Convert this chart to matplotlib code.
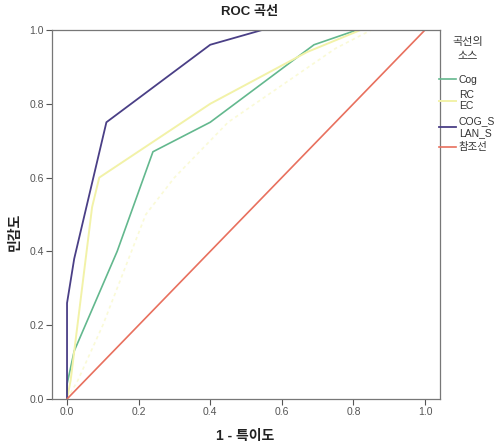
import matplotlib
matplotlib.use('Agg')
import matplotlib.pyplot as plt

plt.rcParams['font.family'] = ['Liberation Sans', 'Noto Sans CJK KR', 'DejaVu Sans']

# ROC curve points (1 - specificity, sensitivity)
cog_x = [0.0, 0.0, 0.02, 0.14, 0.24, 0.40, 0.69, 0.81, 1.0]
cog_y = [0.0, 0.04, 0.13, 0.40, 0.67, 0.75, 0.96, 1.0, 1.0]

rcec_x = [0.0, 0.01, 0.07, 0.09, 0.40, 0.67, 0.82, 1.0]
rcec_y = [0.0, 0.05, 0.52, 0.60, 0.80, 0.94, 1.0, 1.0]

cogslan_x = [0.0, 0.0, 0.0, 0.02, 0.11, 0.40, 0.545, 1.0]
cogslan_y = [0.0, 0.04, 0.26, 0.38, 0.75, 0.96, 1.0, 1.0]

faint_x = [0.0, 0.03, 0.10, 0.16, 0.22, 0.30, 0.45, 0.60, 0.75, 0.85, 1.0]
faint_y = [0.0, 0.05, 0.20, 0.35, 0.50, 0.60, 0.75, 0.85, 0.95, 1.0, 1.0]

ref = [0.0, 1.0]

ticks = [0.0, 0.2, 0.4, 0.6, 0.8, 1.0]

fig = plt.figure(figsize=(4.97, 4.45), dpi=100)
ax = fig.add_axes([52 / 497, 1 - 399 / 445, 388 / 497, 369 / 445])

ax.plot(faint_x, faint_y, color='#fafad6', lw=1.2, ls=(0, (2, 2)))
ax.plot(cog_x, cog_y, color='#63b88e', lw=1.2, label='Cog')
ax.plot(rcec_x, rcec_y, color='#f2f2a8', lw=1.4, label='RC\nEC')
ax.plot(cogslan_x, cogslan_y, color='#4a3f86', lw=1.3, label='COG_S\nLAN_S')
ax.plot(ref, ref, color='#e8705e', lw=1.2, label='참조선')

ax.set_xlim(-0.042, 1.042)
ax.set_ylim(0, 1)
ax.set_xticks(ticks)
ax.set_yticks(ticks)
ax.set_xticklabels([f'{t:.1f}' for t in ticks])
ax.set_yticklabels([f'{t:.1f}' for t in ticks])
ax.tick_params(labelsize=7.5, colors='#555555', length=4, width=0.8, pad=2)
for s in ax.spines.values():
    s.set_color('#777777')
    s.set_linewidth(0.9)

fig.text(250 / 497, 1 - 12 / 445, 'ROC 곡선', fontsize=9.5, fontweight='bold',
         color='#222222', ha='center', va='center')
fig.text(245 / 497, 1 - 436 / 445, '1 - 특이도', fontsize=10, fontweight='bold',
         color='#222222', ha='center', va='center')
fig.text(15 / 497, 1 - 232 / 445, '민감도', fontsize=10, fontweight='bold',
         color='#222222', ha='center', va='center', rotation=90)

# legend title drawn separately to match the looser line spacing
fig.text(468 / 497, 1 - 49 / 445, '곡선의\n소스', fontsize=8, color='#333333',
         ha='center', va='center', linespacing=1.5, multialignment='center')

leg = fig.legend(loc='upper left', bbox_to_anchor=(437 / 497, 1 - 73 / 445),
                 frameon=False, fontsize=7.5,
                 handlelength=1.6, handletextpad=0.3, labelspacing=0.45,
                 borderaxespad=0, borderpad=0.2)
for t in leg.get_texts():
    t.set_color('#333333')

fig.savefig('out.png', dpi=100)
